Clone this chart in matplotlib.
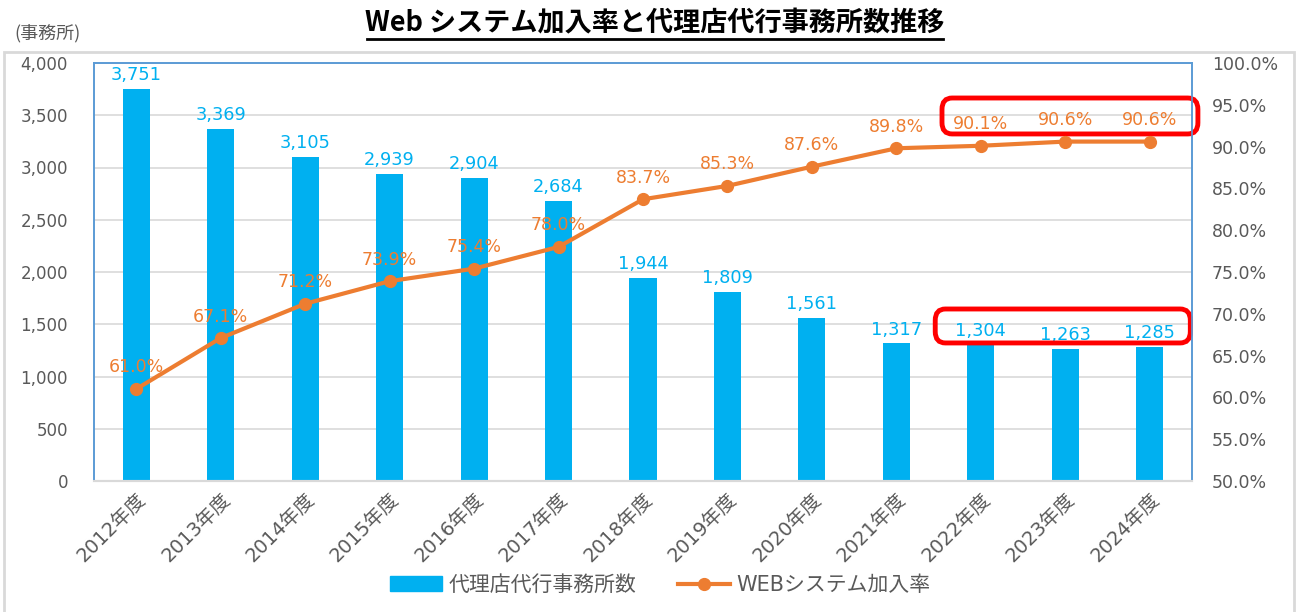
import matplotlib
matplotlib.use("Agg")
import matplotlib.pyplot as plt
from matplotlib.patches import FancyBboxPatch, Rectangle
from matplotlib.ticker import FuncFormatter, MultipleLocator
from matplotlib.lines import Line2D
from matplotlib.patches import Patch

plt.rcParams['font.family'] = ['DejaVu Sans', 'Noto Sans CJK JP']

years = ["2012年度", "2013年度", "2014年度", "2015年度", "2016年度", "2017年度", "2018年度",
         "2019年度", "2020年度", "2021年度", "2022年度", "2023年度", "2024年度"]
offices = [3751, 3369, 3105, 2939, 2904, 2684, 1944, 1809, 1561, 1317, 1304, 1263, 1285]
web_rate = [61.0, 67.1, 71.2, 73.9, 75.4, 78.0, 83.7, 85.3, 87.6, 89.8, 90.1, 90.6, 90.6]

title = "Web システム加入率と代理店代行事務所数推移"
unit_label = "(事務所)"
bar_name = "代理店代行事務所数"
line_name = "WEBシステム加入率"

BLUE = "#00B0F0"
ORANGE = "#ED7D31"
GREY = "#595959"
GRID = "#D9D9D9"
FRAME = "#5B9BD5"
PX = 0.72  # points per pixel at 100 dpi

fig = plt.figure(figsize=(12.99, 6.12), dpi=100)
ax = fig.add_axes([94/1299, 1-481/612, (1192-94)/1299, (481-63)/612])
ax2 = ax.twinx()

x = list(range(len(years)))
ax.bar(x, offices, width=0.32, color=BLUE, zorder=2)
ax.set_ylim(0, 4000)
ax.set_xlim(-0.5, len(years)-0.5)
ax.yaxis.set_major_locator(MultipleLocator(500))
ax.yaxis.set_major_formatter(FuncFormatter(lambda v, p: f"{int(v):,}"))
ax.grid(axis='y', color=GRID, lw=1.2, zorder=0)
ax.set_axisbelow(True)
ax.set_xticks(x)
ax.set_xticklabels(years, rotation=45, ha='right', va='top', rotation_mode='anchor',
                   fontsize=14, color=GREY)
ax.tick_params(axis='x', length=0, pad=6)
ax.tick_params(axis='y', length=0, labelsize=12, labelcolor=GREY, pad=26*PX)

for i, v in enumerate(offices):
    ax.text(i, v + 45, f"{v:,}", ha='center', va='bottom', color=BLUE, fontsize=12.8)

ax2.plot(x, web_rate, color=ORANGE, lw=3, marker='o', ms=8.5, zorder=3)
ax2.set_ylim(50, 100)
ax2.yaxis.set_major_locator(MultipleLocator(5))
ax2.yaxis.set_major_formatter(FuncFormatter(lambda v, p: f"{v:.1f}%"))
ax2.tick_params(axis='y', length=0, labelsize=12.5, labelcolor=GREY, pad=20*PX)
for i, v in enumerate(web_rate):
    ax2.text(i, v + 1.5, f"{v:.1f}%", ha='center', va='bottom', color=ORANGE, fontsize=12.5)

for a in (ax, ax2):
    for s in ('top', 'left', 'right'):
        a.spines[s].set_color(FRAME)
        a.spines[s].set_linewidth(1.2)
    a.spines['bottom'].set_color(GRID)
    a.spines['bottom'].set_linewidth(1.5)

# red highlight boxes
for (x0, x1, y0, y1) in [(9.54, 12.57, 3321, 3665), (9.46, 12.48, 1321, 1646)]:
    box = FancyBboxPatch((x0, y0), x1-x0, y1-y0,
                         boxstyle="round,pad=0,rounding_size=0.12",
                         mutation_aspect=900,
                         fill=False, ec='red', lw=3.5, clip_on=False, zorder=5)
    ax.add_patch(box)

# outer border
fig.patches.append(Rectangle((4/1299, -0.01), 1290/1299, 1-52/612+0.01, transform=fig.transFigure,
                             fill=False, ec=GRID, lw=2))

fig.text(655/1299, 1-23/612, title, ha='center', va='center', fontsize=19.5, fontweight='bold',
         family=['Noto Sans CJK JP'], color='black')
fig.add_artist(Line2D([367/1299, 943/1299], [1-39/612, 1-39/612], color='black', lw=2))
fig.text(14/1299, 1-33/612, unit_label, ha='left', va='center', fontsize=13,
         family=['Noto Sans CJK JP'], color=GREY)

handles = [Patch(color=BLUE), Line2D([0], [0], color=ORANGE, lw=3, marker='o', ms=8.5)]
leg = fig.legend(handles, [bar_name, line_name], loc='center', bbox_to_anchor=(660/1299, 1-585/612),
                 ncol=2, frameon=False, handlelength=2.5, handletextpad=0.3, columnspacing=2.0,
                 prop={'family': ['DejaVu Sans', 'Noto Sans CJK JP'], 'size': 15})
for t in leg.get_texts():
    t.set_color(GREY)

fig.savefig("out.png", dpi=100)
